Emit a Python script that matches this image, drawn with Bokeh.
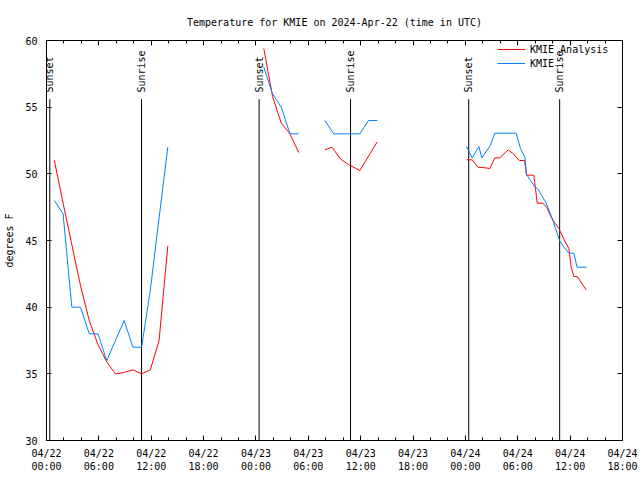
import math
from bokeh.plotting import figure
from bokeh.models import FixedTicker, LinearAxis, Range1d, Legend, LegendItem
from bokeh.core.properties import value
from bokeh.embed import file_html
from bokeh.resources import INLINE

nan = float("nan")
FONT = "DejaVu Sans Mono"
FS = "10px"

TITLE = "Temperature for KMIE on 2024-Apr-22 (time in UTC)"
Y_LABEL = "degrees F"

# x axis: hours since 2024-04-22 00:00 UTC
tick_hours = [0, 6, 12, 18, 24, 30, 36, 42, 48, 54, 60, 66]
tick_days = ["04/22", "04/22", "04/22", "04/22", "04/23", "04/23", "04/23", "04/23",
             "04/24", "04/24", "04/24", "04/24"]
tick_times = ["00:00", "06:00", "12:00", "18:00"] * 3
minor_hours = list(range(0, 67, 2))
y_ticks = [30, 35, 40, 45, 50, 55, 60]

# KMIE Analysis (red)
analysis_hours = [0.9, 1.9, 2.9, 3.9, 4.9, 5.9, 6.9, 7.9, 8.9, 9.9, 10.9, 11.9, 12.9, 13.9, nan,
                  24.9, 25.9, 26.9, 27.9, 28.9, nan,
                  31.9, 32.7, 33.7, 34.6, 35.9, 37.9, nan,
                  48.13, 48.78, 49.42, 50.25, 50.8, 51.37, 51.94, 52.9, 53.48, 54.2, 54.77, 55.0,
                  55.84, 56.23, 56.87, 57.3, 57.95, 58.7, 59.28, 59.85, 60.12, 60.42, 60.81, 61.84]
analysis_temps = [51.0, 47.8, 44.7, 41.6, 39.0, 37.2, 35.9, 35.0, 35.1, 35.3, 35.0, 35.3, 37.5, 44.6, nan,
                  59.4, 55.8, 53.8, 53.0, 51.6, nan,
                  51.8, 52.0, 51.1, 50.7, 50.25, 52.4, nan,
                  51.05, 51.05, 50.5, 50.45, 50.4, 51.2, 51.2, 51.8, 51.5, 51.0, 51.0, 49.9,
                  49.9, 47.8, 47.8, 47.5, 46.6, 45.9, 45.1, 44.4, 43.0, 42.3, 42.3, 41.3]

# KMIE observations (blue)
obs_hours = [0.9, 1.9, 2.9, 3.9, 4.9, 5.9, 6.9, 7.9, 8.9, 9.9, 10.9, 11.9, 12.9, 13.9, nan,
             24.9, 25.9, 26.9, 27.9, 28.9, nan,
             31.9, 32.9, 33.9, 34.9, 35.9, 36.9, 37.9, nan,
             48.13, 48.78, 49.54, 49.88, 50.84, 51.37, 53.82, 54.31, 54.81, 55.0,
             55.98, 56.26, 57.18, 57.98, 58.78, 59.28, 59.85, 60.42, 60.79, 61.88]
obs_temps = [48.0, 47.0, 40.0, 40.0, 38.0, 38.0, 36.0, 37.5, 39.0, 37.0, 37.0, 41.3, 46.7, 52.0, nan,
             58.0, 56.0, 55.0, 53.0, 53.0, nan,
             54.0, 53.0, 53.0, 53.0, 53.0, 54.0, 54.0, nan,
             52.05, 51.2, 52.05, 51.2, 52.1, 53.05, 53.05, 51.9, 51.25, 49.95,
             49.0, 48.9, 47.9, 46.6, 45.0, 44.5, 44.05, 44.05, 43.0, 43.0]

# sunrise / sunset markers
event_hours = [0.38, 10.89, 24.36, 34.84, 48.38, 58.80]
event_names = ["Sunset", "Sunrise", "Sunset", "Sunrise", "Sunset", "Sunrise"]
EVENT_LINE_TOP = 55.6
EVENT_TEXT_Y = 56.1

p = figure(width=640, height=480, x_range=Range1d(0, 66), y_range=Range1d(30, 60),
           output_backend="svg", toolbar_location=None,
           min_border_left=46, min_border_right=18, min_border_top=40, min_border_bottom=40,
           background_fill_color="white", border_fill_color="white",
           outline_line_color="black", outline_line_width=1)

p.title.text = TITLE
p.title.align = "center"
p.title.text_font = FONT
p.title.text_font_size = FS
p.title.text_font_style = "normal"
p.title.text_color = "black"
p.title.standoff = 26

p.xgrid.visible = False
p.ygrid.visible = False


def style_axis(ax, labels=True):
    ax.axis_line_color = "black"
    ax.major_tick_line_color = "black"
    ax.minor_tick_line_color = "black"
    ax.major_tick_in = 5
    ax.major_tick_out = 0
    ax.minor_tick_in = 3
    ax.minor_tick_out = 0
    ax.major_label_text_font = FONT
    ax.major_label_text_font_size = FS
    ax.major_label_text_color = "black"
    if not labels:
        ax.major_label_standoff = 0
        ax.major_label_text_font_size = "0px"


xb = p.xaxis[0]
xb.ticker = FixedTicker(ticks=tick_hours, minor_ticks=minor_hours)
xb.major_label_overrides = {h: f"{d}\n{t}" for h, d, t in zip(tick_hours, tick_days, tick_times)}
style_axis(xb)
xb.major_label_standoff = 7

yl = p.yaxis[0]
yl.ticker = FixedTicker(ticks=y_ticks, minor_ticks=[])
style_axis(yl)
yl.major_label_standoff = 9
yl.axis_label = Y_LABEL
yl.axis_label_text_font = FONT
yl.axis_label_text_font_size = FS
yl.axis_label_text_font_style = "normal"
yl.axis_label_text_color = "black"
yl.axis_label_standoff = 7

xt = LinearAxis(ticker=FixedTicker(ticks=tick_hours, minor_ticks=minor_hours))
style_axis(xt, labels=False)
xt.major_label_overrides = {h: "" for h in tick_hours}
p.add_layout(xt, "above")

yr = LinearAxis(ticker=FixedTicker(ticks=y_ticks, minor_ticks=[]))
style_axis(yr, labels=False)
yr.major_label_overrides = {v: "" for v in y_ticks}
p.add_layout(yr, "right")

n = len(event_hours)
p.segment(x0=event_hours, y0=[30] * n, x1=event_hours, y1=[EVENT_LINE_TOP] * n,
          line_color="black", line_width=1)
p.text(x=event_hours, y=[EVENT_TEXT_Y] * n, text=event_names, angle=math.pi / 2,
       text_align="left", text_baseline="middle", text_font=value(FONT),
       text_font_size=value(FS), text_color="black")

r_an = p.line(analysis_hours, analysis_temps, line_color="#ff0000", line_width=1)
r_ob = p.line(obs_hours, obs_temps, line_color="#0080ff", line_width=1)

legend = Legend(items=[LegendItem(label="KMIE Analysis", renderers=[r_an]),
                       LegendItem(label="KMIE", renderers=[r_ob])],
                location=(451, 370), background_fill_alpha=0, border_line_alpha=0,
                padding=0, spacing=0, margin=0, glyph_width=28, glyph_height=14,
                label_height=14, label_standoff=5,
                label_text_font=FONT, label_text_font_size=FS,
                label_text_color="black")
p.add_layout(legend)

open("out.html", "w").write(file_html(p, INLINE))
